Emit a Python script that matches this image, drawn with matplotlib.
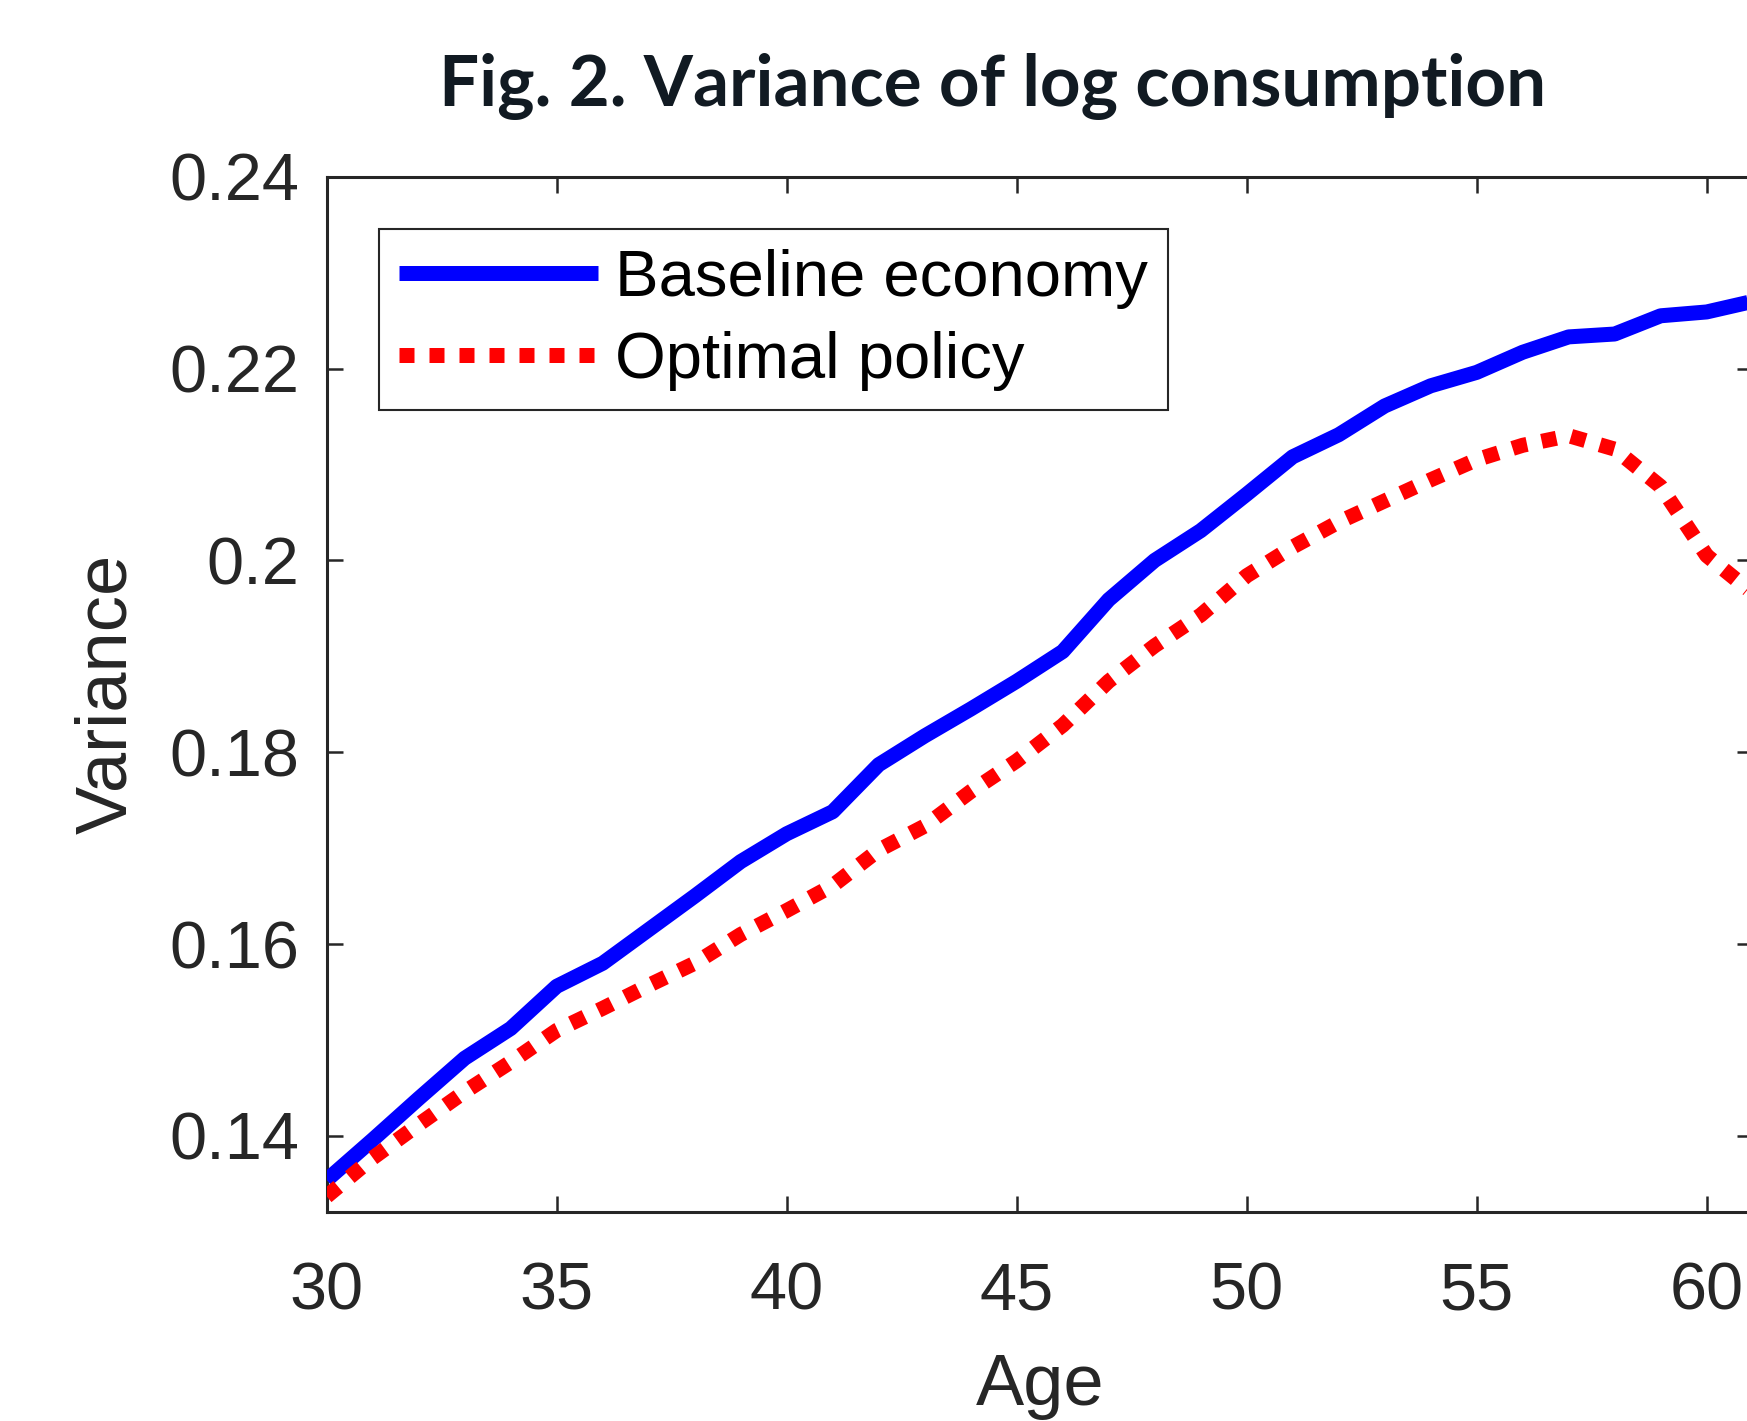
import numpy as np
import matplotlib
matplotlib.use("Agg")
import matplotlib.pyplot as plt
from matplotlib.ticker import FixedLocator, FixedFormatter

# ages on the x axis
ages = np.arange(30, 62)

# variance of log consumption
baseline = [0.1354, 0.1396, 0.1439, 0.1481, 0.1512, 0.1556, 0.1580, 0.1615,
            0.1650, 0.1686, 0.1715, 0.1738, 0.1787, 0.1817, 0.1845, 0.1874,
            0.1905, 0.1959, 0.2000, 0.2031, 0.2069, 0.2108, 0.2131, 0.2161,
            0.2182, 0.2196, 0.2217, 0.2233, 0.2236, 0.2255, 0.2259, 0.2270]
optimal = [0.1337, 0.1377, 0.1412, 0.1446, 0.1477, 0.1510, 0.1533, 0.1557,
           0.1580, 0.1610, 0.1635, 0.1661, 0.1698, 0.1723, 0.1759, 0.1791,
           0.1828, 0.1874, 0.1911, 0.1943, 0.1984, 0.2014, 0.2040, 0.2062,
           0.2084, 0.2105, 0.2120, 0.2130, 0.2116, 0.2077, 0.2005, 0.1966]

series_labels = ["Baseline economy", "Optimal policy"]
xticks = [30, 35, 40, 45, 50, 55, 60]
yticks = [0.14, 0.16, 0.18, 0.20, 0.22, 0.24]
ytick_labels = ["0.14", "0.16", "0.18", "0.2", "0.22", "0.24"]

W, H = 1747, 1421
fig = plt.figure(figsize=(W / 100, H / 100), dpi=100)
fig.patch.set_facecolor("white")

axc = "#262626"
plt.rcParams["font.family"] = ["Liberation Sans", "DejaVu Sans"]

# axes box runs slightly past the right edge of the picture, like the reference
ax = fig.add_axes([326.7 / W, 1 - 1211.7 / H, 1426 / W, (1211.7 - 176.7) / H])

ax.plot(ages, baseline, color=(0, 0, 1), lw=10.8, solid_capstyle="butt",
        label=series_labels[0], zorder=3)
ax.plot(ages, optimal, color=(1, 0, 0), lw=10.8, dashes=(1, 1),
        dash_capstyle="butt", label=series_labels[1], zorder=3)

ax.set_xlim(30, 61)
ax.set_ylim(0.1321, 0.24)

ax.xaxis.set_major_locator(FixedLocator(xticks))
ax.yaxis.set_major_locator(FixedLocator(yticks))
ax.yaxis.set_major_formatter(FixedFormatter(ytick_labels))

for s in ax.spines.values():
    s.set_color(axc)
    s.set_linewidth(2.2)

ax.tick_params(direction="in", length=11.5, width=1.8, color=axc,
               labelcolor=axc, labelsize=48, top=True, right=True)
ax.tick_params(axis="x", pad=36)
ax.tick_params(axis="y", pad=20)

ax.set_xlabel("Age", fontsize=52, color=axc, labelpad=21)
ax.set_ylabel("Variance", fontsize=52, color=axc, labelpad=20)

leg = ax.legend(loc="upper left", bbox_to_anchor=(0.0367, 0.9495),
                fontsize=47, frameon=True, fancybox=False, framealpha=1,
                handlelength=3.05, handletextpad=0.27, labelspacing=0.34,
                borderpad=0.3, borderaxespad=0)
leg.get_frame().set_edgecolor(axc)
leg.get_frame().set_linewidth(1.5)

fig.text(993 / W, 1 - 106 / H, "Fig. 2. Variance of log consumption",
         ha="center", va="baseline", fontsize=51, fontweight="bold",
         family=["Lato", "DejaVu Sans"], color="#111a22")

fig.savefig("out.png", dpi=100)
